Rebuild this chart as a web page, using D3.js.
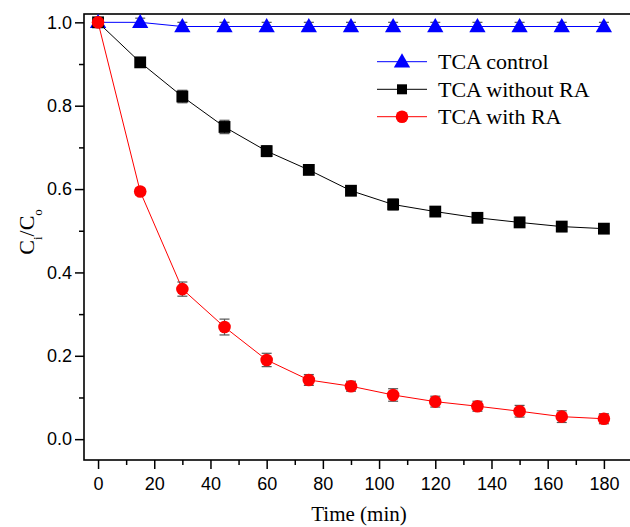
<!DOCTYPE html>
<html>
<head>
<meta charset="utf-8">
<script src="https://cdn.jsdelivr.net/npm/d3@7"></script>
<style>
  body { margin: 0; background: #fff; }
  svg { display: block; }
</style>
</head>
<body>
<div id="chart"></div>
<script>
// time points (min)
const times = [0, 15, 30, 45, 60, 75, 90, 105, 120, 135, 150, 165, 180];

// C/Co values
const control = [1.0, 1.0, 0.99, 0.99, 0.99, 0.99, 0.99, 0.99, 0.99, 0.99, 0.99, 0.99, 0.99];
const controlErr = [0.005, 0.01, 0.01, 0.01, 0.01, 0.01, 0.01, 0.01, 0.01, 0.01, 0.01, 0.01, 0.01];
const withoutRA = [1.0, 0.904, 0.822, 0.749, 0.691, 0.646, 0.596, 0.563, 0.546, 0.531, 0.520, 0.510, 0.505];
const withoutErr = [0.005, 0.008, 0.015, 0.016, 0.013, 0.011, 0.01, 0.013, 0.01, 0.01, 0.012, 0.012, 0.01];
const withRA = [1.0, 0.594, 0.360, 0.269, 0.190, 0.142, 0.127, 0.106, 0.090, 0.079, 0.067, 0.054, 0.049];
const withErr = [0.005, 0.008, 0.017, 0.019, 0.016, 0.013, 0.012, 0.015, 0.013, 0.012, 0.014, 0.014, 0.012];

const xTicks = [0, 20, 40, 60, 80, 100, 120, 140, 160, 180];
const yTicks = [0.0, 0.2, 0.4, 0.6, 0.8, 1.0];

const width = 630, height = 527;
const plotLeft = 84, plotRight = 632, plotTop = 14, plotBottom = 460;

let svg = d3.select("#chart").append("svg")
  .attr("width", width)
  .attr("height", height);

let x = d3.scaleLinear().domain([-5, 190]).range([plotLeft, plotRight]);
let y = d3.scaleLinear().domain([-0.05, 1.02]).range([plotBottom, plotTop]);

// frame
svg.append("rect")
  .attr("x", plotLeft).attr("y", plotTop)
  .attr("width", plotRight - plotLeft).attr("height", plotBottom - plotTop)
  .attr("fill", "none").attr("stroke", "#000").attr("stroke-width", 1.6);

// minor ticks
let xMinor = d3.range(0, 191, 10).filter(d => d % 20 !== 0);
let yMinor = [0.1, 0.3, 0.5, 0.7, 0.9];

let xAxis = d3.axisBottom(x).tickValues(xTicks).tickSize(9).tickSizeOuter(0).tickFormat(d3.format("d"));
let yAxis = d3.axisLeft(y).tickValues(yTicks).tickSize(9).tickSizeOuter(0).tickFormat(d3.format(".1f"));

let gx = svg.append("g").attr("transform", `translate(0,${plotBottom})`).call(xAxis);
let gy = svg.append("g").attr("transform", `translate(${plotLeft},0)`).call(yAxis);

svg.append("g").attr("transform", `translate(0,${plotBottom})`)
  .call(d3.axisBottom(x).tickValues(xMinor).tickSize(5).tickSizeOuter(0).tickFormat(""));
svg.append("g").attr("transform", `translate(${plotLeft},0)`)
  .call(d3.axisLeft(y).tickValues(yMinor).tickSize(5).tickSizeOuter(0).tickFormat(""));

svg.selectAll(".domain").remove();
svg.selectAll(".tick line").attr("stroke", "#000").attr("stroke-width", 1.5);
gx.selectAll(".tick text")
  .style("font-family", "'Liberation Sans', Arial, sans-serif")
  .style("font-size", "18px")
  .attr("fill", "#000")
  .attr("dy", "1.0em");
gy.selectAll(".tick text")
  .style("font-family", "'Liberation Sans', Arial, sans-serif")
  .style("font-size", "18px")
  .attr("fill", "#000")
  .attr("x", -12);

// axis titles
svg.append("text")
  .attr("x", 359).attr("y", 521)
  .attr("text-anchor", "middle")
  .style("font-family", "'Liberation Serif', 'Times New Roman', serif")
  .style("font-size", "21px")
  .text("Time (min)");

let yl = svg.append("text")
  .attr("transform", "translate(34,232) rotate(-90)")
  .attr("text-anchor", "middle")
  .style("font-family", "'Liberation Serif', 'Times New Roman', serif")
  .style("font-size", "22px");
yl.append("tspan").text("C");
yl.append("tspan").attr("baseline-shift", "sub").style("font-size", "13px").text("i");
yl.append("tspan").text("/C");
yl.append("tspan").attr("baseline-shift", "sub").style("font-size", "13px").text("o");

// series
let series = [
  { name: "TCA control", values: control, err: controlErr, color: "#0000ff", shape: d3.symbolTriangle, size: 115 },
  { name: "TCA without RA", values: withoutRA, err: withoutErr, color: "#000000", shape: d3.symbolSquare, size: 140 },
  { name: "TCA with RA", values: withRA, err: withErr, color: "#ff0000", shape: d3.symbolCircle, size: 125 }
];

let line = d3.line()
  .x(d => x(d.t))
  .y(d => y(d.v));

let plot = svg.append("g");

series.forEach(s => {
  let pts = times.map((t, i) => ({ t: t, v: s.values[i], e: s.err[i] }));
  s.pts = pts;
  plot.append("path")
    .datum(pts)
    .attr("d", line)
    .attr("fill", "none")
    .attr("stroke", s.color)
    .attr("stroke-width", 1);
});

// error bars and markers
series.forEach(s => {
  let eb = plot.append("g").attr("stroke", "#555").attr("stroke-width", 1.2);
  s.pts.forEach(p => {
    eb.append("line")
      .attr("x1", x(p.t)).attr("x2", x(p.t))
      .attr("y1", y(p.v + p.e)).attr("y2", y(p.v - p.e));
    [p.v + p.e, p.v - p.e].forEach(v => {
      eb.append("line")
        .attr("x1", x(p.t) - 5).attr("x2", x(p.t) + 5)
        .attr("y1", y(v)).attr("y2", y(v));
    });
  });
  plot.selectAll(null)
    .data(s.pts)
    .enter()
    .append("path")
    .attr("transform", d => `translate(${x(d.t)},${y(d.v) + (s.shape === d3.symbolTriangle ? 1 : 0)})`)
    .attr("d", d3.symbol().type(s.shape).size(s.size))
    .attr("fill", s.color);
});

// legend
let legendRows = [61.7, 89.3, 116.7];
let legend = svg.append("g");
series.forEach((s, i) => {
  let ly = legendRows[i];
  legend.append("line")
    .attr("x1", 377).attr("x2", 427)
    .attr("y1", ly).attr("y2", ly)
    .attr("stroke", s.color).attr("stroke-width", 1);
  legend.append("path")
    .attr("transform", `translate(402,${ly + (s.shape === d3.symbolTriangle ? 1 : 0)})`)
    .attr("d", d3.symbol().type(s.shape).size(s.shape === d3.symbolSquare ? 100 : s.size))
    .attr("fill", s.color);
  legend.append("text")
    .attr("x", 438).attr("y", ly + 7.5)
    .style("font-family", "'Liberation Serif', 'Times New Roman', serif")
    .style("font-size", "22px")
    .attr("fill", "#000")
    .text(s.name);
});
</script>
</body>
</html>
